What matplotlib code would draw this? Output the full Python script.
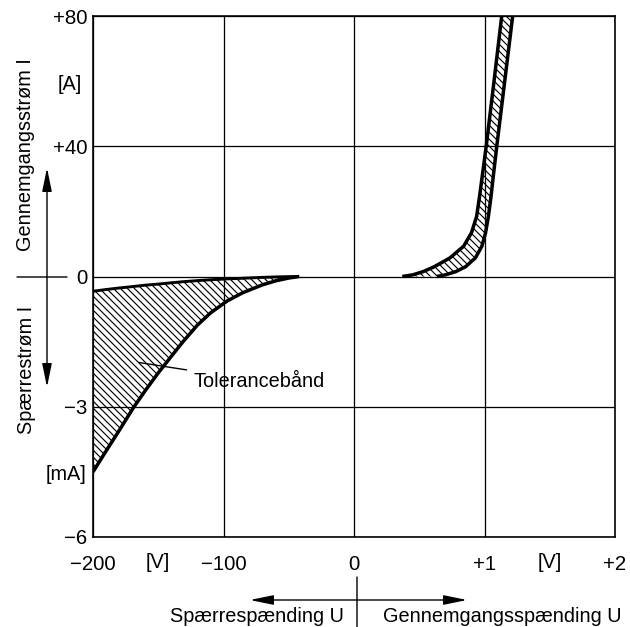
import numpy as np
import matplotlib
matplotlib.use('Agg')
import matplotlib.pyplot as plt

# diode characteristic with tolerance band
# reverse side: voltage in V, current in mA (negative)
rev_volt = [-200, -190, -180, -169, -160, -150, -140, -131, -120, -110,
            -97, -85, -70, -60, -50, -42]
rev_cur_min = [-0.34, -0.30, -0.265, -0.23, -0.20, -0.175, -0.145, -0.12,
               -0.095, -0.075, -0.055, -0.04, -0.02, -0.01, -0.003, 0.0]
rev_cur_max = [-4.50, -4.02, -3.55, -3.02, -2.63, -2.22, -1.84, -1.50,
               -1.12, -0.84, -0.56, -0.37, -0.19, -0.10, -0.035, 0.0]

# forward side: current in A, voltage in V
fwd_cur = [0, 0.5, 1.5, 3, 5.7, 9.3, 13.4, 18.5, 24.6, 30, 40, 60, 80]
fwd_volt_lo = [0.37, 0.45, 0.53, 0.615, 0.735, 0.84, 0.90, 0.94, 0.962, 0.98,
               1.013, 1.073, 1.132]
fwd_volt_hi = [0.635, 0.70, 0.78, 0.855, 0.93, 0.98, 1.008, 1.03, 1.05, 1.065,
               1.094, 1.155, 1.216]

x_ticks = [-200, -100, 0, 1, 2]
x_labels = ['\u2212200', '\u2212100', '0', '+1', '+2']
y_ticks = [-6, -3, 0, 40, 80]
y_labels = ['\u22126', '\u22123', '0', '+40', '+80']

W, H, DPI = 630, 627, 84
plt.rcParams['font.family'] = ['Liberation Sans', 'DejaVu Sans']
plt.rcParams['hatch.linewidth'] = 1.0
FS = 17
FS_TICK = 17.5
HATCH = '\\\\\\\\'


# piecewise scales: 100 V per cell left of 0, 1 V per cell right of 0
def x_fwd(v):
    v = np.asarray(v, float)
    return np.where(v < 0, v / 100.0, v)


def x_inv(u):
    u = np.asarray(u, float)
    return np.where(u < 0, u * 100.0, u)


# 3 mA per cell below 0, 40 A per cell above 0
def y_fwd(i):
    i = np.asarray(i, float)
    return np.where(i < 0, i / 3.0, i / 40.0)


def y_inv(u):
    u = np.asarray(u, float)
    return np.where(u < 0, u * 3.0, u * 40.0)


def px(x, y):
    # pixel position measured from the top left corner
    return (x, H - y)


fig = plt.figure(figsize=(W / DPI, H / DPI), dpi=DPI)
ax = fig.add_axes([93 / W, 1 - 537 / H, 522 / W, 521 / H])
ax.set_xscale('function', functions=(x_fwd, x_inv))
ax.set_yscale('function', functions=(y_fwd, y_inv))
ax.set_xlim(-200, 2)
ax.set_ylim(-6, 80)

ax.set_xticks(x_ticks, x_labels, fontsize=FS_TICK)
ax.set_yticks(y_ticks, y_labels, fontsize=FS_TICK)
ax.tick_params(axis='x', length=0, pad=15)
ax.tick_params(axis='y', length=0, pad=5)
ax.grid(True, color='black', lw=1.1)
ax.set_axisbelow(True)
for s in ax.spines.values():
    s.set_linewidth(1.4)

# tolerance bands
line_kw = dict(color='black', solid_joinstyle='round', solid_capstyle='butt')
ax.fill_between(rev_volt, rev_cur_min, rev_cur_max, facecolor='none',
                edgecolor='black', hatch=HATCH, linewidth=0)
ax.plot(rev_volt, rev_cur_min, lw=2.5, **line_kw)
ax.plot(rev_volt, rev_cur_max, lw=3.0, **line_kw)

ax.fill_betweenx(fwd_cur, fwd_volt_lo, fwd_volt_hi, facecolor='none',
                 edgecolor='black', hatch=HATCH, linewidth=0)
ax.plot(fwd_volt_lo, fwd_cur, lw=3.0, **line_kw)
ax.plot(fwd_volt_hi, fwd_cur, lw=3.0, **line_kw)

ax.annotate('Tolerancebånd', xy=(-165, -1.98), xytext=(-123, -2.41),
            fontsize=FS, ha='left', va='center',
            arrowprops=dict(arrowstyle='-', color='black', lw=1.2,
                            shrinkA=4, shrinkB=0))

# unit labels
fig.text(70 / W, 1 - 84 / H, '[A]', fontsize=FS, ha='center', va='center')
fig.text(66 / W, 1 - 475 / H, '[mA]', fontsize=FS, ha='center', va='center')
fig.text(158 / W, 1 - 562 / H, '[V]', fontsize=FS, ha='center', va='center')
fig.text(550 / W, 1 - 562 / H, '[V]', fontsize=FS, ha='center', va='center')

# left side: current directions
fig.text(26 / W, 1 - 155 / H, 'Gennemgangsstrøm I', fontsize=FS,
         rotation=90, ha='center', va='center')
fig.text(26 / W, 1 - 370 / H, 'Spærrestrøm I', fontsize=FS,
         rotation=90, ha='center', va='center')
arrow = dict(arrowstyle='<|-|>,head_length=1.7,head_width=0.35',
             color='black', lw=1.2, shrinkA=0, shrinkB=0, mutation_scale=10)
ax.annotate('', xy=px(47, 168), xytext=px(47, 387), xycoords='figure pixels',
            textcoords='figure pixels', arrowprops=arrow)
ax.annotate('', xy=px(17, 277), xytext=px(67, 277), xycoords='figure pixels',
            textcoords='figure pixels',
            arrowprops=dict(arrowstyle='-', color='black', lw=1.2,
                            shrinkA=0, shrinkB=0))

# bottom: voltage directions
ax.annotate('', xy=px(250, 600), xytext=px(467, 600), xycoords='figure pixels',
            textcoords='figure pixels', arrowprops=arrow)
ax.annotate('', xy=px(357, 577), xytext=px(357, 627), xycoords='figure pixels',
            textcoords='figure pixels',
            arrowprops=dict(arrowstyle='-', color='black', lw=1.2,
                            shrinkA=0, shrinkB=0))
fig.text(344 / W, 1 - 617 / H, 'Spærrespænding U', fontsize=FS,
         ha='right', va='center')
fig.text(383 / W, 1 - 617 / H, 'Gennemgangsspænding U', fontsize=FS,
         ha='left', va='center')

fig.savefig('out.png', dpi=DPI)
